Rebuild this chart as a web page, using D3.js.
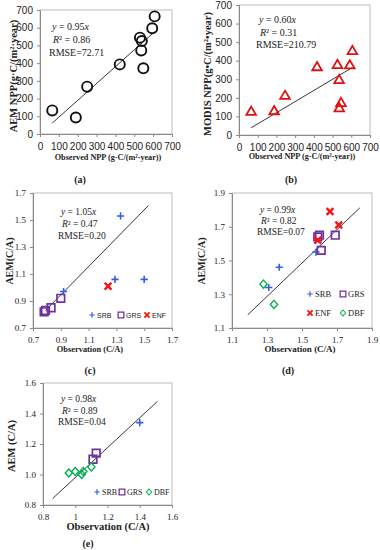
<!DOCTYPE html>
<html lang="en">
<head>
  <meta charset="UTF-8">
  <title>AEM vs observation</title>
  <script src="https://d3js.org/d3.v7.min.js" charset="utf-8"></script>
  <style>
    body { margin: 0; background: #fff; }
    svg text { font-family: "Liberation Serif", "Times New Roman", serif; fill: #222; }
  </style>
</head>
<body>
<script>
  // panel (a) and (b): NPP
  var aObs = [65, 190, 250, 423, 530, 540, 537, 548, 595, 608]
  var aAem = [133, 93, 267, 393, 544, 525, 472, 371, 597, 664]
  var bObs = [65, 188, 246, 417, 526, 535, 545, 536, 592, 606]
  var bModis = [128, 131, 214, 368, 380, 299, 175, 147, 378, 455]
  var nppTicks = [0, 100, 200, 300, 400, 500, 600, 700]

  // panel (c)
  var cSrbX = [0.92, 1.33, 1.29, 1.50], cSrbY = [0.97, 1.53, 1.06, 1.06]
  var cGrsX = [0.78, 0.79, 0.83, 0.90], cGrsY = [0.82, 0.83, 0.85, 0.92]
  var cEnfX = [1.24], cEnfY = [1.01]
  var cTicks = [0.7, 0.9, 1.1, 1.3, 1.5, 1.7]

  // panel (d)
  var dSrbX = [1.31, 1.37, 1.58], dSrbY = [1.34, 1.46, 1.55]
  var dGrsX = [1.59, 1.60, 1.61, 1.69], dGrsY = [1.64, 1.65, 1.56, 1.65]
  var dEnfX = [1.59, 1.66, 1.71], dEnfY = [1.62, 1.79, 1.71]
  var dDbfX = [1.28, 1.34], dDbfY = [1.36, 1.24]
  var dTicks = [1.1, 1.3, 1.5, 1.7, 1.9]

  // panel (e)
  var eSrbX = [1.40], eSrbY = [1.34]
  var eGrsX = [1.11, 1.13], eGrsY = [1.10, 1.14]
  var eDbfX = [0.96, 1.00, 1.04, 1.05, 1.10], eDbfY = [1.01, 1.02, 1.00, 1.02, 1.05]
  var eTicks = [0.8, 1.0, 1.2, 1.4, 1.6]

  // fit lines: slope and x range
  var fits = {
    a: { k: 0.95, x: [65, 608] },
    b: { k: 0.60, x: [65, 606] },
    c: { k: 1.05, x: [0.79, 1.53] },
    d: { k: 0.99, x: [1.19, 1.83] },
    e: { k: 0.98, x: [0.86, 1.51] }
  }

  var svg = d3.select('body').append('svg').attr('width', 380).attr('height', 550)

  var zip = function(xs, ys) { return xs.map(function(v, i) { return [v, ys[i]] }) }

  // marker shapes
  var shapes = {
    circle: { path: d3.symbol(d3.symbolCircle, 80)(), color: '#111', fill: 'none', sw: 1.9 },
    tri: { path: 'M0,-4.6L4.8,3.6L-4.8,3.6Z', color: '#e01010', fill: 'none', sw: 1.8 },
    plus: { path: 'M-3.6,0H3.6M0,-3.6V3.6', color: '#2f5ff0', fill: 'none', sw: 1.6 },
    square: { path: 'M-3.8,-3.8H3.8V3.8H-3.8Z', color: '#7030a0', fill: 'none', sw: 1.7 },
    cross: { path: 'M-3.4,-3.4L3.4,3.4M3.4,-3.4L-3.4,3.4', color: '#ff1010', fill: 'none', sw: 2.4 },
    diamond: { path: 'M0,-4L3.6,0L0,4L-3.6,0Z', color: '#00b050', fill: 'none', sw: 1.4 }
  }

  function marker(g, type, scale) {
    var s = shapes[type]
    return g.append('path').attr('d', s.path)
      .attr('transform', scale ? 'scale(' + scale + ')' : null)
      .attr('fill', s.fill).attr('stroke', s.color).attr('stroke-width', s.sw)
  }

  function panel(p) {
    var x = d3.scaleLinear().domain(p.xd).range([p.x0, p.x1])
    var y = d3.scaleLinear().domain(p.yd).range([p.y0, p.y1])
    var g = svg.append('g')

    // plot frame
    g.append('rect').attr('x', p.x0).attr('y', p.y1)
      .attr('width', p.x1 - p.x0).attr('height', p.y0 - p.y1)
      .attr('fill', 'none').attr('stroke', '#bdbdbd').attr('stroke-width', 1)

    var ax = g.append('g').attr('transform', 'translate(0,' + p.y0 + ')')
      .call(d3.axisBottom(x).tickValues(p.ticks).tickSize(3).tickPadding(p.xpad).tickFormat(p.xfmt))
    var ay = g.append('g').attr('transform', 'translate(' + p.x0 + ',0)')
      .call(d3.axisLeft(y).tickValues(p.ticks).tickSize(3).tickPadding(p.ypad).tickFormat(p.yfmt))
    ;[ax, ay].forEach(function(a) {
      a.selectAll('.domain,line').attr('stroke', '#8a8a8a')
      a.selectAll('text').style('font-family', p.tickFont).style('font-size', p.tickSize + 'px').attr('fill', '#222')
    })

    // fit line
    var f = fits[p.id]
    g.append('path')
      .attr('d', d3.line().x(function(d) { return x(d) }).y(function(d) { return y(f.k * d) })(f.x))
      .attr('stroke', '#222').attr('stroke-width', 0.9).attr('fill', 'none')

    p.series.forEach(function(s) {
      g.selectAll(null).data(s.pts).enter().append('g')
        .attr('transform', function(d) { return 'translate(' + x(d[0]) + ',' + y(d[1]) + ')' })
        .each(function() { marker(d3.select(this), s.type) })
    })

    // equation text
    var t = g.append('text').attr('x', p.eq[0]).attr('y', p.eq[1]).style('font-size', p.eqSize + 'px')
    t.append('tspan').style('font-style', 'italic').text('y')
    t.append('tspan').text(' = ' + f.k.toFixed(2))
    t.append('tspan').style('font-style', 'italic').text('x')
    var r = g.append('text').attr('x', p.eq[0] + 1).attr('y', p.eq[1] + p.eqStep).style('font-size', p.eqSize + 'px')
    r.append('tspan').style('font-style', 'italic').text('R')
    r.append('tspan').text('² = ' + p.r2)
    g.append('text').attr('x', p.eq[0] - 3).attr('y', p.eq[1] + 2 * p.eqStep).style('font-size', p.eqSize + 'px')
      .text('RMSE=' + p.rmse)

    // axis titles
    g.append('text').attr('transform', 'translate(' + p.ytx + ',' + (p.yty) + ') rotate(-90)')
      .attr('text-anchor', 'middle').style('font-weight', 'bold').style('font-size', p.ytSize + 'px').text(p.ytitle)
    g.append('text').attr('x', p.xtx).attr('y', p.xty).attr('text-anchor', 'middle')
      .style('font-weight', 'bold').style('font-size', p.xtSize + 'px').text(p.xtitle)
    g.append('text').attr('x', p.lab[0]).attr('y', p.lab[1]).attr('text-anchor', 'middle')
      .style('font-weight', 'bold').style('font-size', '10px').text('(' + p.id + ')')

    // legend
    if (p.legend) {
      p.legend.forEach(function(l) {
        var lg = g.append('g').attr('transform', 'translate(' + l.x + ',' + l.y + ')')
        marker(lg, l.type, 0.75)
        lg.append('text').attr('x', 5).attr('y', 3).style('font-family', p.legFont)
          .style('font-size', p.legSize + 'px').text(l.name)
      })
    }
  }

  var fmt1 = d3.format('.1f')
  var fmtE = function(d) { return d === 1 ? '1' : d3.format('.1f')(d) }

  panel({
    id: 'a', xd: [0, 700], yd: [0, 700], x0: 40, x1: 172, y0: 134, y1: 10,
    ticks: nppTicks, xfmt: d3.format('d'), yfmt: d3.format('d'), xpad: 6, ypad: 4,
    tickFont: '"Liberation Sans", Arial, sans-serif', tickSize: 10,
    series: [{ type: 'circle', pts: zip(aObs, aAem) }],
    eq: [52, 30], eqStep: 13, eqSize: 10, r2: '0.86', rmse: '72.71',
    ytitle: 'AEM NPP(g·C/(m²·year)', ytx: 17, yty: 76, ytSize: 10.5,
    xtitle: 'Observed NPP (g·C/(m²·year))', xtx: 108, xty: 160, xtSize: 8.2,
    lab: [80, 183]
  })

  panel({
    id: 'b', xd: [0, 700], yd: [0, 700], x0: 239, x1: 370, y0: 135, y1: 5,
    ticks: nppTicks, xfmt: d3.format('d'), yfmt: d3.format('d'), xpad: 6, ypad: 4,
    tickFont: '"Liberation Sans", Arial, sans-serif', tickSize: 10,
    series: [{ type: 'tri', pts: zip(bObs, bModis) }],
    eq: [259, 23], eqStep: 12.5, eqSize: 10, r2: '0.31', rmse: '210.79',
    ytitle: 'MODIS NPP(g•C/(m²•year)', ytx: 211, yty: 74, ytSize: 10.5,
    xtitle: 'Observed NPP (g·C/(m²·year))', xtx: 302, xty: 159, xtSize: 8.2,
    lab: [291, 183]
  })

  panel({
    id: 'c', xd: [0.7, 1.7], yd: [0.7, 1.7], x0: 33, x1: 172, y0: 328, y1: 193,
    ticks: cTicks, xfmt: fmt1, yfmt: fmt1, xpad: 6, ypad: 4,
    tickFont: '"Liberation Serif", serif', tickSize: 9,
    series: [{ type: 'plus', pts: zip(cSrbX, cSrbY) }, { type: 'square', pts: zip(cGrsX, cGrsY) },
      { type: 'cross', pts: zip(cEnfX, cEnfY) }],
    eq: [61, 215], eqStep: 12, eqSize: 9.5, r2: '0.47', rmse: '0.20',
    ytitle: 'AEM(C/A)', ytx: 13, yty: 261, ytSize: 10,
    xtitle: 'Observation (C/A)', xtx: 90, xty: 352, xtSize: 8.4,
    lab: [90, 374],
    legFont: '"Liberation Sans", Arial, sans-serif', legSize: 7,
    legend: [{ type: 'plus', name: 'SRB', x: 92, y: 315 }, { type: 'square', name: 'GRS', x: 121, y: 315 },
      { type: 'cross', name: 'ENF', x: 147, y: 315 }]
  })

  panel({
    id: 'd', xd: [1.1, 1.9], yd: [1.1, 1.9], x0: 232, x1: 372, y0: 328, y1: 193,
    ticks: dTicks, xfmt: fmt1, yfmt: fmt1, xpad: 6, ypad: 4,
    tickFont: '"Liberation Serif", serif', tickSize: 9,
    series: [{ type: 'plus', pts: zip(dSrbX, dSrbY) }, { type: 'square', pts: zip(dGrsX, dGrsY) },
      { type: 'cross', pts: zip(dEnfX, dEnfY) }, { type: 'diamond', pts: zip(dDbfX, dDbfY) }],
    eq: [260, 213], eqStep: 11, eqSize: 9.5, r2: '0.82', rmse: '0.07',
    ytitle: 'AEM(C/A)', ytx: 205, yty: 261, ytSize: 10,
    xtitle: 'Observation (C/A)', xtx: 300, xty: 352, xtSize: 9,
    lab: [288, 374],
    legFont: '"Liberation Serif", serif', legSize: 8.5,
    legend: [{ type: 'plus', name: 'SRB', x: 310, y: 294 }, { type: 'square', name: 'GRS', x: 343, y: 294 },
      { type: 'cross', name: 'ENF', x: 310, y: 313 }, { type: 'diamond', name: 'DBF', x: 343, y: 313 }]
  })

  panel({
    id: 'e', xd: [0.8, 1.6], yd: [0.8, 1.6], x0: 43, x1: 172, y0: 505, y1: 383,
    ticks: eTicks, xfmt: fmtE, yfmt: fmt1, xpad: 6, ypad: 4,
    tickFont: '"Liberation Serif", serif', tickSize: 9,
    series: [{ type: 'plus', pts: zip(eSrbX, eSrbY) }, { type: 'square', pts: zip(eGrsX, eGrsY) },
      { type: 'diamond', pts: zip(eDbfX, eDbfY) }],
    eq: [61, 402], eqStep: 11.5, eqSize: 9.5, r2: '0.89', rmse: '0.04',
    ytitle: 'AEM (C/A)', ytx: 15, yty: 446, ytSize: 10.5,
    xtitle: 'Observation (C/A)', xtx: 108, xty: 530, xtSize: 10.5,
    lab: [88, 547],
    legFont: '"Liberation Serif", serif', legSize: 8,
    legend: [{ type: 'plus', name: 'SRB', x: 97, y: 492 }, { type: 'square', name: 'GRS', x: 122, y: 492 },
      { type: 'diamond', name: 'DBF', x: 149, y: 492 }]
  })
</script>
</body>
</html>
